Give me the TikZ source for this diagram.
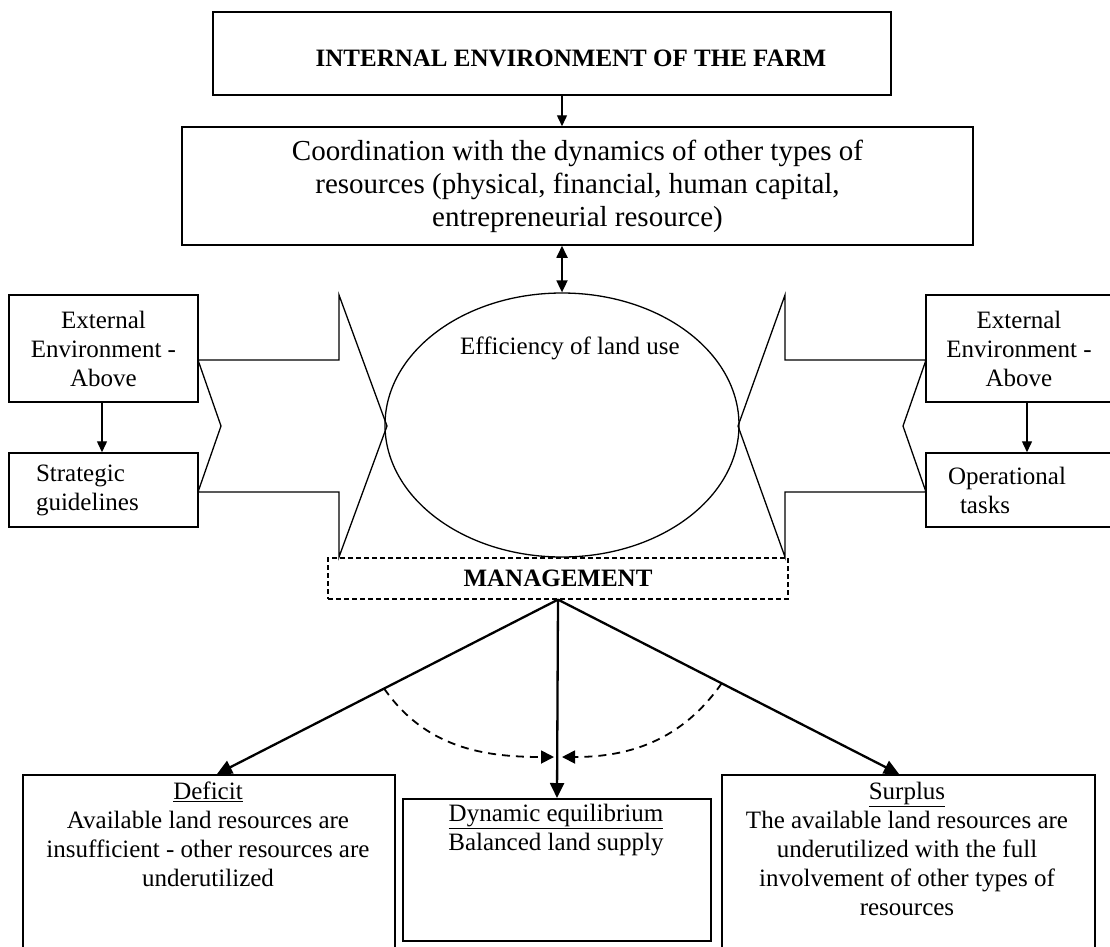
\documentclass[tikz,border=0pt]{standalone}
\usepackage{fontspec}
\setmainfont{Liberation Serif}
\usetikzlibrary{arrows.meta,shapes.geometric}

\begin{document}
\begin{tikzpicture}[x=1pt, y=-1pt,
    box/.style={draw, line width=1.5pt, rectangle, inner sep=0pt},
    txt/.style={font=\fontsize{25}{29}\selectfont, align=center, inner sep=0pt},
    smalltip/.style={-{Triangle[length=11pt,width=10pt]}, line width=1.4pt},
    bigtip/.style={-{Triangle[length=15pt,width=14pt]}, line width=2.3pt},
    dashtip/.style={-{Triangle[length=13pt,width=13pt]}, line width=1.8pt, dash pattern=on 8pt off 6pt}]
    \useasboundingbox (0,0) rectangle (1110,946);

    % Top boxes
    \node[box, txt, text height=27pt, minimum width=678pt, minimum height=83pt] (farm) at (552,53.5)
        {\bfseries\hspace*{38pt}INTERNAL ENVIRONMENT OF THE FARM};
    \node[box, txt, font=\fontsize{29}{33}\selectfont, minimum width=791pt, minimum height=118pt] (coord) at (577.5,186)
        {Coordination with the dynamics of other types of\\resources (physical, financial, human capital,\\entrepreneurial resource)};

    % Centre ellipse
    \node[draw, ellipse, line width=1.3pt, minimum width=354pt, minimum height=264pt, inner sep=0pt] (eff) at (562,425) {};
    \node[txt, anchor=base] (efftext) at (570,354) {Efficiency of land use};

    \draw[smalltip] (eff.north |- farm.south) -- (eff.north |- coord.north);
    \draw[{Triangle[length=12pt,width=11pt]}-{Triangle[length=12pt,width=11pt]}, line width=1.8pt] (eff.north |- coord.south) -- (eff.north);

    % Left side
    \node[box, txt, minimum width=189pt, minimum height=107pt] (extL) at (103.5,348.5)
        {External\\Environment -\\Above};
    \node[box, txt, align=left, text width=135pt, minimum width=189pt, minimum height=74pt] (strat) at (103.5,490)
        {Strategic\\guidelines};
    \draw[smalltip] ([xshift=-1.5pt]extL.south) -- ([xshift=-1.5pt]strat.north);
    \draw[line width=1.3pt] (198,360) -- (339,360) -- (339,295) -- (387,426) -- (339,557)
        -- (339,492) -- (198,492) -- (221,426) -- cycle;

    % Right side
    \node[box, txt, minimum width=186pt, minimum height=107pt] (extR) at (1019,348.5)
        {External\\Environment -\\Above};
    \node[box, txt, align=left, text width=142pt, minimum width=186pt, minimum height=74pt] (oper) at (1019,490)
        {Operational\\\hspace*{12pt}tasks};
    \draw[smalltip] ([xshift=8pt]extR.south) -- ([xshift=8pt]oper.north);
    \draw[line width=1.3pt] (926,360) -- (785,360) -- (785,295) -- (738,426) -- (785,557)
        -- (785,492) -- (926,492) -- (903,426) -- cycle;

    % Management
    \node[box, txt, line width=1.2pt, dash pattern=on 5pt off 3pt, minimum width=460pt, minimum height=41pt] (mgmt) at (558,578.5)
        {\bfseries MANAGEMENT};

    % Bottom boxes
    \node[box, anchor=north, minimum width=372pt, minimum height=190pt] (deficit) at (209,774) {};
    \node[txt, anchor=north] (deficittext) at (208,782)
        {\underline{Deficit}\\Available land resources are\\insufficient - other resources are\\underutilized};
    \node[box, anchor=north, minimum width=308pt, minimum height=142pt] (dyn) at (557,798) {};
    \node[txt, anchor=north] (dyntext) at (556,804)
        {\underline{Dynamic equilibrium}\\Balanced land supply};
    \node[box, anchor=north, minimum width=373pt, minimum height=190pt] (surplus) at (908.5,774) {};
    \node[txt, anchor=north] (surplustext) at (907,782)
        {\underline{Surplus}\\The available land resources are\\underutilized with the full\\involvement of other types of\\resources};

    % Management arrows
    \draw[bigtip] (mgmt.south) -- coordinate[pos=0.51] (lcut) ([xshift=8pt]deficit.north);
    \draw[bigtip] (mgmt.south) -- (dyn.north);
    \draw[bigtip] (mgmt.south) -- coordinate[pos=0.48] (rcut) ([xshift=-9.5pt]surplus.north);
    \coordinate (meet) at (558,757);
    \draw[dashtip] (lcut) to[out=-55, in=180] ([xshift=-4pt]meet);
    \draw[dashtip] (rcut) to[out=-125, in=0] ([xshift=4pt]meet);
\end{tikzpicture}
\end{document}
